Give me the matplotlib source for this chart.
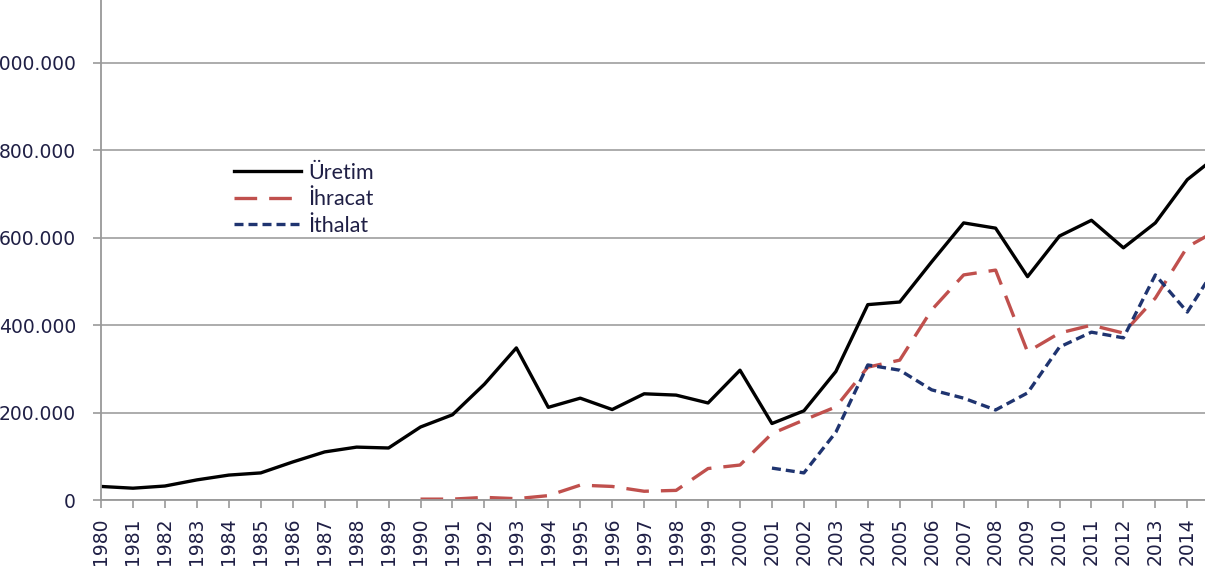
import matplotlib
matplotlib.use("Agg")
import matplotlib.pyplot as plt
from matplotlib.ticker import FuncFormatter
import numpy as np

years = list(range(1980, 2016))
uretim = [31, 27, 32, 46, 57, 62, 87, 110, 121, 119, 167, 195, 265, 348, 212, 233, 207, 243, 240, 222,
          297, 175, 204, 294, 447, 453, 545, 634, 622, 511, 604, 640, 577, 634, 733, 791]
ihracat = [None]*10 + [2, 2, 6, 3, 10, 34, 31, 20, 22, 72, 80, 152, 183, 213, 304, 320, 435, 515, 526,
                       339, 382, 400, 382, 462, 579, 620]
ithalat = [None]*21 + [73, 62, 155, 309, 297, 252, 233, 206, 245, 350, 384, 371, 515, 430, 545]

def arr(v):
    return np.array([np.nan if x is None else x*1000 for x in v], dtype=float)

yticks = [0, 200000, 400000, 600000, 800000, 1000000]
labels = ["Üretim", "İhracat", "İthalat"]
txt = "#1f1f45"

fig = plt.figure(figsize=(12.05, 5.78), dpi=100)
ax = fig.add_axes([101/1205, 78/578, 1 - 101/1205, 500/578])
ax.set_xlim(1980, 1980 + (1205-101)/31.95)
ax.set_ylim(0, 500*2288)

ax.plot(years, arr(uretim), color="black", lw=2.4, label=labels[0])
ax.plot(years, arr(ihracat), color="#c0504d", lw=2.4, dashes=(6.8, 3.6), label=labels[1])
ax.plot(years, arr(ithalat), color="#1f3470", lw=2.4, dashes=(2.7, 1.5), label=labels[2])

ax.set_yticks(yticks)
ax.yaxis.set_major_formatter(FuncFormatter(lambda v, p: "0" if v == 0 else f"{int(v):,}".replace(",", ".")))
ax.set_xticks(years[:35])
ax.set_xticklabels([str(y) for y in years[:35]], rotation=90)
ax.grid(axis="y", color="#a6a6a6", lw=1.3)
ax.set_axisbelow(True)
for s in ["top", "right"]:
    ax.spines[s].set_visible(False)
for s in ["left", "bottom"]:
    ax.spines[s].set_color("#999999")
    ax.spines[s].set_linewidth(1.3)
ax.tick_params(axis="both", direction="out", length=6, width=1.2, color="#999999",
               labelcolor=txt, labelsize=13.5)
ax.tick_params(axis="y", pad=12)
ax.tick_params(axis="x", pad=6.5)

leg = ax.legend(loc="upper left", bbox_to_anchor=(122/1104, 1 - 152/500), frameon=False,
                handlelength=3.1, handletextpad=0.35, labelspacing=0.3, borderpad=0,
                prop={"family": "Lato", "size": 15.5})
for t in leg.get_texts():
    t.set_color(txt)

fig.savefig("out.png", dpi=100)
